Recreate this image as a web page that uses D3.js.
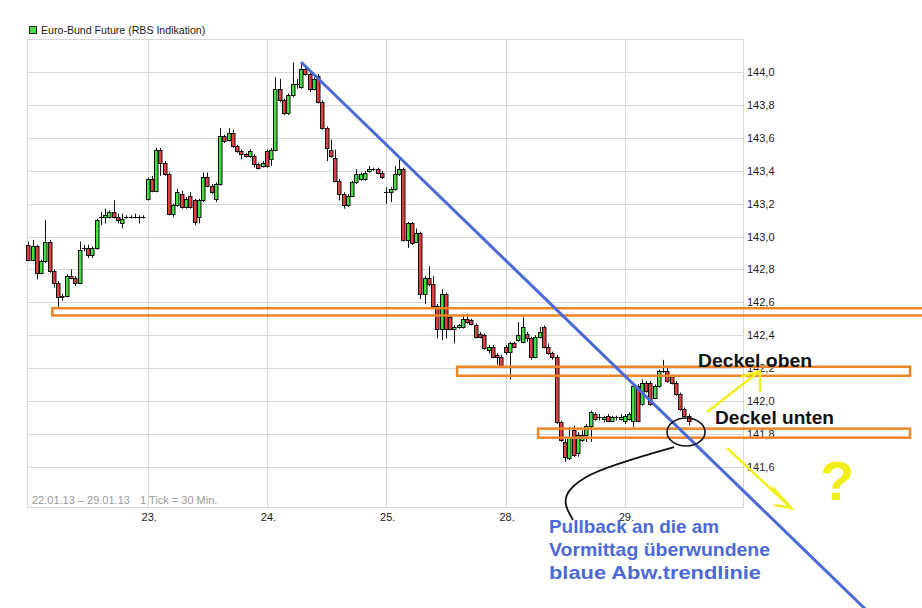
<!DOCTYPE html>
<html><head><meta charset="utf-8">
<script src="https://cdn.jsdelivr.net/npm/d3@7"></script>
<style>
body{margin:0;background:#fff}
svg{display:block}
text{font-family:"Liberation Sans",Arial,sans-serif}
</style>
</head><body>
<svg id="chart" width="922" height="608"></svg>
<script>
// ---------- data ----------
const title = "Euro-Bund Future (RBS Indikation)";
const footNote1 = "22.01.13 \u2013 29.01.13";
const footNote2 = "1 Tick = 30 Min.";
const dayLabels = ["23.", "24.", "25.", "28.", "29."];
const dayStartIdx = [28, 56, 84, 112, 140];
const yTicks = [141.6, 141.8, 142.0, 142.2, 142.4, 142.6, 142.8, 143.0, 143.2, 143.4, 143.6, 143.8, 144.0];

const opens = [
 142.95,142.86,142.94,142.78,142.85,142.97,142.79,142.72,142.63,142.64,142.76,142.75,142.72,142.93,142.93,142.89,142.93,143.12,143.12,143.12,143.15,143.12,143.08,143.12,143.12,143.12,143.12,143.12,
 143.23,143.35,143.28,143.53,143.45,143.38,143.14,143.19,143.26,143.18,143.25,143.22,143.12,143.22,143.36,143.31,143.23,143.32,143.61,143.59,143.63,143.55,143.52,143.50,143.49,143.49,143.44,143.43,
 143.52,143.47,143.53,143.90,143.83,143.75,143.86,143.93,143.91,144.02,143.99,143.90,143.98,143.82,143.66,143.53,143.48,143.34,143.26,143.19,143.25,143.33,143.35,143.35,143.40,143.41,143.41,143.39,
 143.27,143.27,143.29,143.38,143.41,142.98,143.08,142.97,143.02,142.65,142.75,142.71,142.58,142.44,142.65,142.51,142.44,142.45,142.45,142.50,142.49,142.46,142.41,142.40,142.31,142.33,142.28,142.27,
 142.33,142.30,142.35,142.37,142.36,142.41,142.38,142.27,142.39,142.45,142.33,142.29,142.27,141.87,141.75,141.65,141.82,141.68,141.76,141.79,141.85,141.92,141.90,141.89,141.91,141.88,141.90,141.89,
 141.88,141.89,141.88,142.09,141.98,142.11,142.11,142.02,142.09,142.18,142.18,142.15,142.11,142.04,141.95,141.91
];
const highs = [
 142.97,142.98,142.95,142.86,143.10,142.98,142.80,142.73,142.65,142.77,142.80,142.76,142.97,142.95,142.95,142.94,143.11,143.15,143.17,143.16,143.22,143.14,143.14,143.13,143.13,143.14,143.13,143.13,
 143.36,143.37,143.54,143.54,143.46,143.39,143.20,143.29,143.28,143.24,143.27,143.23,143.23,143.39,143.39,143.32,143.33,143.66,143.62,143.66,143.65,143.56,143.53,143.51,143.53,143.50,143.45,143.46,
 143.53,143.54,143.97,143.96,143.84,143.87,144.06,143.96,144.06,144.04,144.00,143.97,143.99,143.83,143.67,143.59,143.53,143.35,143.27,143.26,143.34,143.41,143.39,143.40,143.43,143.42,143.42,143.40,
 143.30,143.30,143.43,143.47,143.42,143.09,143.09,143.05,143.03,142.76,142.82,142.76,142.59,142.68,142.66,142.52,142.46,142.47,142.52,142.53,142.50,142.47,142.42,142.41,142.34,142.34,142.29,142.28,
 142.34,142.36,142.36,142.48,142.51,142.42,142.39,142.40,142.45,142.46,142.35,142.30,142.28,141.88,141.77,141.84,141.85,141.81,141.82,141.86,141.94,141.93,141.92,141.91,141.92,141.91,141.91,141.92,
 141.92,141.93,142.10,142.10,142.13,142.12,142.12,142.10,142.19,142.25,142.21,142.16,142.12,142.05,141.96,141.92
];
const lows = [
 142.85,142.85,142.74,142.77,142.84,142.78,142.69,142.57,142.61,142.63,142.74,142.70,142.71,142.91,142.87,142.87,142.92,143.07,143.08,143.11,143.11,143.08,143.05,143.11,143.11,143.11,143.08,143.11,
 143.22,143.27,143.27,143.37,143.37,143.13,143.12,143.18,143.17,143.17,143.17,143.07,143.08,143.21,143.30,143.26,143.21,143.31,143.57,143.58,143.54,143.51,143.47,143.48,143.48,143.42,143.41,143.42,
 143.42,143.43,143.52,143.82,143.74,143.74,143.85,143.90,143.90,143.98,143.88,143.89,143.81,143.65,143.46,143.48,143.33,143.22,143.17,143.18,143.24,143.32,143.34,143.34,143.39,143.40,143.38,143.35,
 143.20,143.21,143.28,143.37,142.97,142.93,142.95,142.96,142.62,142.59,142.70,142.57,142.38,142.37,142.38,142.43,142.35,142.44,142.44,142.47,142.46,142.38,142.38,142.31,142.29,142.26,142.22,142.20,
 142.28,142.13,142.32,142.36,142.35,142.36,142.25,142.26,142.38,142.32,142.28,142.25,141.86,141.75,141.63,141.64,141.66,141.66,141.75,141.75,141.75,141.88,141.88,141.87,141.87,141.87,141.88,141.88,
 141.86,141.88,141.84,141.87,141.97,142.05,141.97,142.01,142.08,142.17,142.11,142.10,142.03,141.94,141.90,141.85
];
const closes = [
 142.86,142.94,142.78,142.85,142.97,142.79,142.72,142.63,142.64,142.76,142.75,142.72,142.92,142.93,142.89,142.93,143.10,143.12,143.13,143.15,143.12,143.10,143.11,143.12,143.12,143.12,143.12,143.12,
 143.35,143.28,143.53,143.45,143.38,143.14,143.19,143.27,143.18,143.23,143.18,143.09,143.22,143.36,143.31,143.27,143.32,143.61,143.58,143.63,143.55,143.52,143.50,143.49,143.52,143.44,143.42,143.45,
 143.43,143.53,143.90,143.83,143.75,143.86,143.93,143.93,144.02,143.99,143.90,143.96,143.82,143.66,143.54,143.49,143.34,143.26,143.19,143.25,143.33,143.38,143.38,143.39,143.41,143.41,143.39,143.36,
 143.27,143.29,143.38,143.41,142.98,143.08,142.96,143.02,142.65,142.75,142.71,142.58,142.44,142.65,142.44,142.44,142.45,142.46,142.50,142.48,142.47,142.39,142.39,142.32,142.33,142.27,142.27,142.21,
 142.30,142.35,142.33,142.40,142.45,142.38,142.27,142.39,142.42,142.33,142.29,142.27,141.87,141.76,141.66,141.78,141.67,141.79,141.79,141.85,141.93,141.89,141.90,141.90,141.88,141.90,141.90,141.90,
 141.91,141.92,142.09,141.88,142.11,142.06,141.98,142.09,142.18,142.18,142.12,142.11,142.04,141.95,141.91,141.88
];

// drawn annotations, in (candle index, price) units
const trendLine = [[63.76, 144.063], [197.5, 140.70]];
const zones = [
  {from: 5.38, to: 212, hi: 142.564, lo: 142.520},
  {from: 100.4, to: 206.7, hi: 142.208, lo: 142.153},
  {from: 119.4, to: 206.7, hi: 141.831, lo: 141.776}
];
const arrowUp = {shaft: [[159.05, 141.932], [171.5, 142.182]], head: [[167.05, 142.145], [171.5, 142.182], [171.5, 142.054]]};
const arrowDown = {shaft: [[163.75, 141.713], [178.8, 141.348]], head: [[174.4, 141.476], [178.8, 141.348], [174.9, 141.366]]};
const circle = {i: 154.13, p: 141.811, ri: 4.46, rp: 0.0852};
const pointer = [[151.31, 141.719], [140.99, 141.640], [132.07, 141.555], [126.9, 141.458], [125.96, 141.366], [127.6, 141.275]];
const notes = [
  {text: "Deckel oben", i: 156.95, p: 142.206, color: "#111", size: 19, len: 114},
  {text: "Deckel unten", i: 160.94, p: 141.859, color: "#111", size: 19, len: 119},
  {text: "Pullback an die am", i: 121.97, p: 141.196, color: "#4a6ad8", size: 19, len: 170},
  {text: "Vormittag \u00fcberwundene", i: 121.97, p: 141.056, color: "#4a6ad8", size: 19, len: 221},
  {text: "blaue Abw.trendlinie", i: 121.97, p: 140.916, color: "#4a6ad8", size: 19, len: 212},
  {text: "?", i: 185.6, p: 141.397, color: "#f2ee1a", size: 56, len: 0}
];

// ---------- layout ----------
const L = 27, R = 743, T = 39, B = 507;
const svg = d3.select("#chart");
const xs = d3.scaleLinear().domain([-0.56, 167.5]).range([L, R]);
const ys = d3.scaleLinear().domain([141.354, 144.203]).range([B, T]);
const gridCol = "#d6d6d6";

// grid
const g = svg.append("g");
g.selectAll(".hg").data(yTicks).join("line")
  .attr("x1", L).attr("x2", R)
  .attr("y1", d => Math.round(ys(d)) + 0.5).attr("y2", d => Math.round(ys(d)) + 0.5)
  .attr("stroke", gridCol);
g.selectAll(".vg").data(dayStartIdx).join("line")
  .attr("x1", d => Math.round(xs(d)) - 0.5).attr("x2", d => Math.round(xs(d)) - 0.5)
  .attr("y1", T).attr("y2", B).attr("stroke", gridCol);
g.append("rect").attr("x", L + 0.5).attr("y", T + 0.5).attr("width", R - L).attr("height", B - T)
  .attr("fill", "none").attr("stroke", gridCol);

// footnote
svg.append("text").attr("x", 32).attr("y", 504).attr("font-size", 11).attr("fill", "#9a9a9a").text(footNote1);
svg.append("text").attr("x", 140).attr("y", 504).attr("font-size", 11).attr("fill", "#9a9a9a").text(footNote2);

// axes
const yAxis = d3.axisRight(ys).tickValues(yTicks).tickSize(0).tickPadding(4)
  .tickFormat(d => d3.format(".1f")(d).replace(".", ","));
const ya = svg.append("g").attr("transform", `translate(${R},0)`).call(yAxis);
ya.select(".domain").remove();
ya.selectAll("text").attr("font-size", 11).attr("fill", "#1a1a1a").attr("font-family", "Liberation Sans, Arial, sans-serif");

const xAxis = d3.axisBottom(xs).tickValues(dayStartIdx).tickSize(0).tickPadding(6)
  .tickFormat((d, i) => dayLabels[i]);
const xa = svg.append("g").attr("transform", `translate(0,${B})`).call(xAxis);
xa.select(".domain").remove();
xa.selectAll("text").attr("font-size", 11).attr("fill", "#1a1a1a").attr("font-family", "Liberation Sans, Arial, sans-serif");

// legend
svg.append("rect").attr("x", 29.5).attr("y", 26.5).attr("width", 7).attr("height", 7)
  .attr("fill", "#44dd44").attr("stroke", "#222");
svg.append("text").attr("x", 41).attr("y", 34).attr("font-size", 10.6).attr("fill", "#1a1a1a").text(title);

// candles
const candles = opens.map((o, i) => ({i, o, h: highs[i], l: lows[i], c: closes[i]}));
const cg = svg.append("g");
cg.selectAll(".wick").data(candles).join("line")
  .attr("x1", d => Math.round(xs(d.i)) - 0.5).attr("x2", d => Math.round(xs(d.i)) - 0.5)
  .attr("y1", d => ys(d.h)).attr("y2", d => ys(d.l))
  .attr("stroke", "#111").attr("stroke-width", 1);
cg.selectAll(".body").data(candles).join("rect")
  .attr("x", d => Math.round(xs(d.i)) - 2.5)
  .attr("width", 3.5)
  .attr("y", d => Math.round(ys(Math.max(d.o, d.c))) + 0.5)
  .attr("height", d => Math.max(0.01, Math.round(ys(Math.min(d.o, d.c))) - Math.round(ys(Math.max(d.o, d.c)))))
  .attr("fill", d => d.c > d.o ? "#40e040" : (d.c < d.o ? "#e04040" : "#111"))
  .attr("stroke", "#111").attr("stroke-width", 1);

// annotations
const P = d => [xs(d[0]), ys(d[1])];
const ag = svg.append("g");
zones.forEach(z => {
  ag.append("rect")
    .attr("x", xs(z.from)).attr("y", ys(z.hi))
    .attr("width", xs(z.to) - xs(z.from)).attr("height", ys(z.lo) - ys(z.hi))
    .attr("fill", "none").attr("stroke", "#f08428").attr("stroke-width", 2.5);
});
ag.append("path").attr("d", d3.line()(trendLine.map(P)))
  .attr("stroke", "#4a6ad8").attr("stroke-width", 3).attr("fill", "none");
ag.append("ellipse")
  .attr("cx", xs(circle.i)).attr("cy", ys(circle.p))
  .attr("rx", xs(circle.i + circle.ri) - xs(circle.i))
  .attr("ry", ys(circle.p - circle.rp) - ys(circle.p))
  .attr("fill", "none").attr("stroke", "#111").attr("stroke-width", 1.6);
ag.append("path").attr("d", d3.line().curve(d3.curveNatural)(pointer.map(P)))
  .attr("fill", "none").attr("stroke", "#111").attr("stroke-width", 1.8);
[arrowUp, arrowDown].forEach(a => {
  ag.append("path").attr("d", d3.line()(a.shaft.map(P)))
    .attr("stroke", "#f2ee1a").attr("stroke-width", 2.5).attr("fill", "none");
  ag.append("path").attr("d", d3.line()(a.head.map(P)))
    .attr("stroke", "#f2ee1a").attr("stroke-width", 2.5).attr("fill", "none");
});
notes.forEach(n => {
  const t = ag.append("text").attr("x", xs(n.i)).attr("y", ys(n.p))
    .attr("font-size", n.size).attr("font-weight", "bold").attr("fill", n.color)
    .attr("font-family", "Liberation Sans, Arial, sans-serif")
    .text(n.text);
  if (n.len) t.attr("textLength", n.len).attr("lengthAdjust", "spacingAndGlyphs");
});
</script>
</body></html>
